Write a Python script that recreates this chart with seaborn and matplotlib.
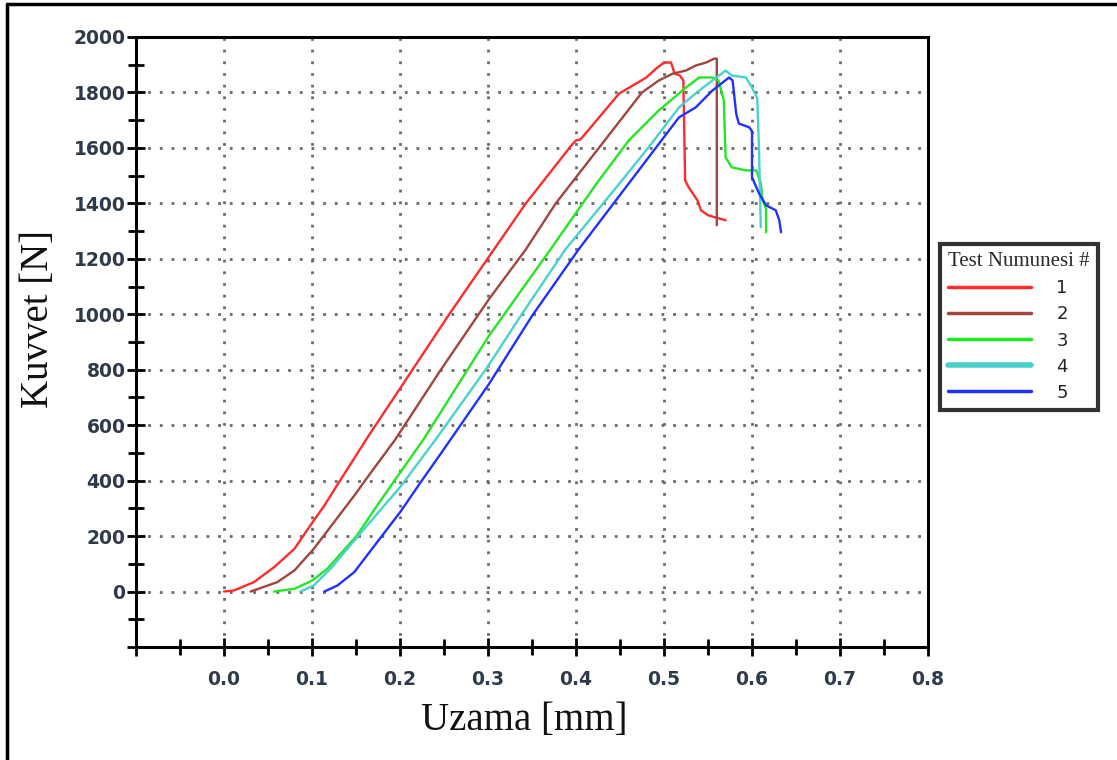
import matplotlib
matplotlib.use("Agg")
import matplotlib.pyplot as plt
from matplotlib.lines import Line2D
from matplotlib.ticker import MultipleLocator, FuncFormatter
import pandas as pd
import seaborn as sns

# Force–elongation readings for each specimen (elongation in mm, force in N)
test1_x = [0.0, 0.0114, 0.034, 0.057, 0.080, 0.098, 0.114, 0.133, 0.165, 0.2008, 0.2557, 0.3068,
           0.343, 0.395, 0.40, 0.405, 0.449, 0.48, 0.491, 0.50, 0.508, 0.512, 0.518, 0.522,
           0.524, 0.528, 0.538, 0.542, 0.55, 0.57]
test1_y = [0, 4, 34, 88, 154, 238, 310, 406, 565, 736, 999, 1234,
           1400, 1610, 1627, 1630, 1796, 1854, 1886, 1908, 1908, 1868, 1861, 1843,
           1483, 1458, 1411, 1375, 1357, 1339]

test2_x = [0.0303, 0.0606, 0.080, 0.102, 0.125, 0.148, 0.163, 0.195, 0.2443, 0.301, 0.343, 0.377,
           0.426, 0.475, 0.494, 0.51, 0.525, 0.536, 0.548, 0.557, 0.56, 0.56]
test2_y = [0, 34, 76, 154, 250, 346, 412, 550, 790, 1054, 1234, 1400,
           1600, 1800, 1843, 1868, 1879, 1897, 1908, 1922, 1922, 1321]

test3_x = [0.0568, 0.080, 0.1004, 0.1174, 0.151, 0.174, 0.197, 0.227, 0.301, 0.371, 0.423, 0.46,
           0.494, 0.525, 0.54, 0.555, 0.562, 0.568, 0.57, 0.577, 0.593, 0.605, 0.61, 0.612,
           0.616, 0.616]
test3_y = [0, 10, 40, 82, 202, 310, 415, 550, 922, 1234, 1470, 1627,
           1735, 1818, 1854, 1854, 1843, 1771, 1566, 1530, 1519, 1519, 1472, 1411,
           1380, 1296]

test4_x = [0.087, 0.102, 0.121, 0.155, 0.201, 0.242, 0.299, 0.339, 0.388, 0.449, 0.486, 0.517,
           0.54, 0.555, 0.57, 0.577, 0.593, 0.6, 0.606, 0.608, 0.61]
test4_y = [0, 22, 82, 210, 380, 555, 808, 1003, 1234, 1470, 1616, 1746,
           1807, 1843, 1879, 1861, 1854, 1818, 1778, 1591, 1314]

test5_x = [0.114, 0.129, 0.148, 0.174, 0.201, 0.223, 0.25, 0.301, 0.350, 0.403, 0.46, 0.517,
           0.536, 0.555, 0.574, 0.578, 0.582, 0.585, 0.597, 0.6, 0.6, 0.608, 0.616, 0.627,
           0.631, 0.633]
test5_y = [0, 22, 70, 178, 290, 392, 514, 748, 994, 1234, 1472, 1710,
           1746, 1807, 1854, 1843, 1724, 1688, 1674, 1660, 1494, 1436, 1393, 1375,
           1339, 1296]

specimens = ["1", "2", "3", "4", "5"]
colors = ["#ff2b2b", "#a3443e", "#22e822", "#48d2cd", "#2030ff"]

xs_all = [test1_x, test2_x, test3_x, test4_x, test5_x]
ys_all = [test1_y, test2_y, test3_y, test4_y, test5_y]
df = pd.concat(
    [pd.DataFrame({"Uzama": xs, "Kuvvet": ys, "Test": name})
     for name, xs, ys in zip(specimens, xs_all, ys_all)],
    ignore_index=True,
)

sns.set_style("white")
plt.rcParams["font.family"] = ["DejaVu Sans"]

W, H = 1117, 760
fig = plt.figure(figsize=(W / 100, H / 100), dpi=100)
ax = fig.add_axes([136 / W, 1 - 647 / H, (928 - 136) / W, (647 - 37) / H])

sns.lineplot(data=df, x="Uzama", y="Kuvvet", hue="Test",
             palette=dict(zip(specimens, colors)), sort=False, estimator=None,
             legend=False, linewidth=1.7, ax=ax)

ax.set_xlim(-0.1, 0.8)
ax.set_ylim(-200, 2000)

ax.xaxis.set_major_locator(MultipleLocator(0.1))
ax.xaxis.set_minor_locator(MultipleLocator(0.05))
ax.yaxis.set_major_locator(MultipleLocator(200))
ax.yaxis.set_minor_locator(MultipleLocator(100))
ax.xaxis.set_major_formatter(FuncFormatter(lambda v, p: "" if v < -1e-6 else f"{abs(v):.1f}"))
ax.yaxis.set_major_formatter(FuncFormatter(lambda v, p: "" if v < -1e-6 else f"{int(round(v))}"))

ax.grid(which="major", linestyle=(0, (1, 3.2)), color="#6a6a6a", linewidth=2.0)
ax.tick_params(which="both", bottom=True, left=True, top=False, right=False)
ax.tick_params(which="major", direction="inout", length=13, width=2, color="black",
               labelsize=13.5, labelcolor="#2e3a4c", pad=1)
ax.tick_params(which="minor", direction="inout", length=11, width=2, color="black")
ax.tick_params(axis="x", which="major", pad=10)
for lab in ax.get_xticklabels() + ax.get_yticklabels():
    lab.set_fontweight("bold")

for s in ax.spines.values():
    s.set_visible(True)
    s.set_color("black")
    s.set_linewidth(2.2)

ax.set_xlabel("Uzama [mm]", fontsize=28, family="Liberation Serif", color="#111111")
ax.set_ylabel("Kuvvet [N]", fontsize=28, family="Liberation Serif", color="#111111")
ax.xaxis.set_label_coords((524 - 136) / 792, (647 - 702) / 610)
ax.yaxis.set_label_coords((57 - 136) / 792, (647 - 319) / 610)

handles = [Line2D([], [], color=c, lw=(4 if n == "4" else 2.5)) for n, c in zip(specimens, colors)]
leg = fig.legend(handles, specimens, title="Test Numunesi #", loc="upper left",
                 bbox_to_anchor=(940 / W, 1 - 244 / H), frameon=True, fancybox=False,
                 edgecolor="black", fontsize=13,
                 title_fontproperties={"family": "Liberation Serif", "size": 15},
                 handlelength=4.6, handletextpad=1.4, labelspacing=0.45,
                 borderpad=0.45, borderaxespad=0, alignment="left")
leg.get_frame().set_linewidth(3)
for t in leg.get_texts():
    t.set_color("#222222")

# page frame along the left and top edges
fig.add_artist(Line2D([7 / W, 7 / W], [0, 1 - 4 / H], transform=fig.transFigure,
                      color="black", lw=2.5))
fig.add_artist(Line2D([7 / W, 1], [1 - 4 / H, 1 - 4 / H], transform=fig.transFigure,
                      color="black", lw=2.5))

fig.savefig("out.png", dpi=100)
